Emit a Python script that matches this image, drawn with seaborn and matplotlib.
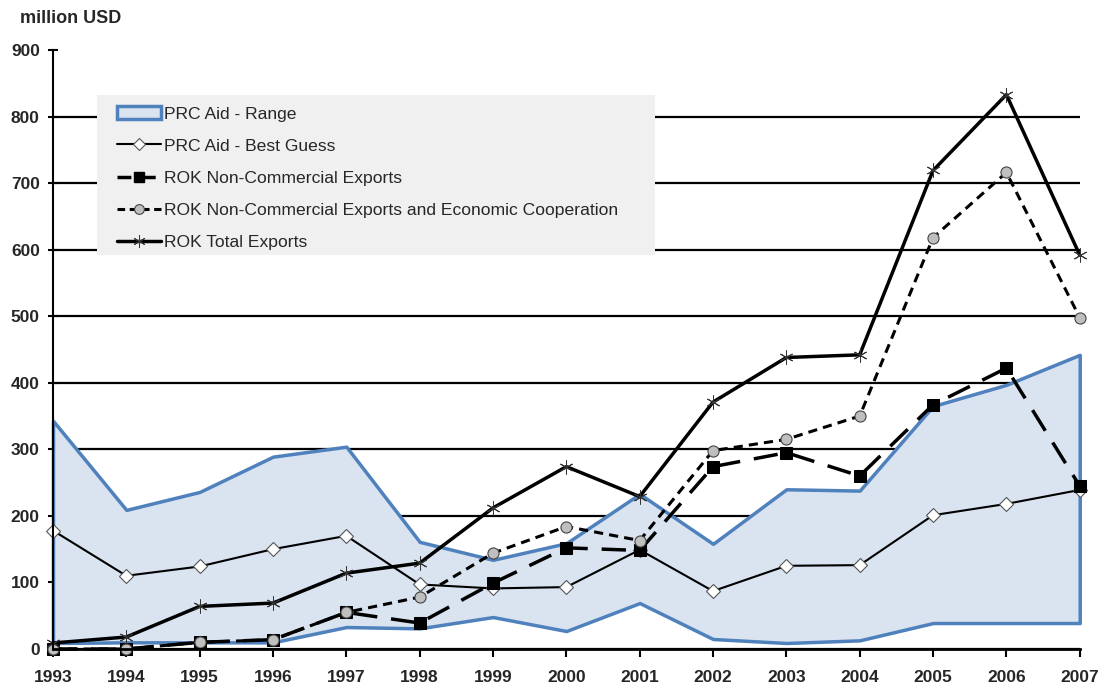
import numpy as np
import pandas as pd
import matplotlib
matplotlib.use("Agg")
import matplotlib.pyplot as plt
from matplotlib.patches import Patch, Rectangle
from matplotlib.lines import Line2D
import seaborn as sns

years = [1993, 1994, 1995, 1996, 1997, 1998, 1999, 2000, 2001, 2002, 2003, 2004, 2005, 2006, 2007]
prc_upper = [343, 209, 236, 289, 304, 161, 134, 159, 233, 158, 240, 238, 365, 397, 442]
prc_lower = [9, 10, 10, 10, 33, 31, 48, 27, 69, 15, 9, 13, 39, 39, 39]
prc_best = [178, 110, 124, 150, 170, 97, 91, 93, 149, 87, 125, 126, 201, 218, 239]
rok_nc = [0, 0, 10, 14, 55, 39, 99, 152, 148, 274, 295, 260, 367, 422, 245]
rok_nc_econ = [0, 0, 10, 14, 55, 78, 144, 184, 163, 298, 315, 350, 618, 716, 498]
rok_total = [9, 18, 64, 69, 114, 129, 212, 274, 229, 371, 438, 442, 719, 833, 592]

labels = ["PRC Aid - Range", "PRC Aid - Best Guess", "ROK Non-Commercial Exports",
          "ROK Non-Commercial Exports and Economic Cooperation", "ROK Total Exports"]
yticks = [0, 100, 200, 300, 400, 500, 600, 700, 800, 900]

sns.set_theme(style="white")
plt.rcParams['font.family'] = ['Liberation Sans', 'DejaVu Sans']

fig = plt.figure(figsize=(11.04, 6.88), dpi=100)
ax = fig.add_axes([0.048, 0.0567, 0.930, 0.8706])

fill_c = "#dae3f0"
edge_c = "#4f81bd"
poly = ax.fill_between(years, prc_lower, prc_upper, facecolor=fill_c, edgecolor=edge_c,
                       linewidth=2.5, zorder=1)
poly.set_clip_on(False)

sns.lineplot(x=years, y=prc_best, ax=ax, color="black", linewidth=1.5,
             marker="D", markersize=7, markerfacecolor="white", markeredgecolor="#555555",
             markeredgewidth=0.8, zorder=3)
sns.lineplot(x=years, y=rok_nc, ax=ax, color="black", linewidth=2.5, zorder=3)
ln = ax.lines[-1]
ln.set_dashes([7, 4])
ln.set_marker("s")
ln.set_markersize(8)
ln.set_markerfacecolor("black")
ln.set_markeredgecolor("black")
sns.lineplot(x=years, y=rok_nc_econ, ax=ax, color="black", linewidth=2.2,
             marker="o", markersize=8, markerfacecolor="#bfbfbf", markeredgecolor="#444444",
             markeredgewidth=0.8, zorder=4)
ax.lines[-1].set_dashes([3, 2])
sns.lineplot(x=years, y=rok_total, ax=ax, color="black", linewidth=2.5,
             marker=(6, 2, 0), markersize=10, markeredgecolor="#333333",
             markeredgewidth=0.7, zorder=5)
for l in ax.lines:
    l.set_clip_on(False)

ax.set_xlim(years[0], years[-1])
ax.set_ylim(0, 900)
ax.set_xticks(years)
ax.set_xticklabels([str(y) for y in years], fontsize=12.5, fontweight="bold")
ax.set_yticks(yticks)
ax.set_yticklabels([str(v) for v in yticks], fontsize=12.5, fontweight="bold")
ax.set_xlabel("")
ax.set_ylabel("")

ax.yaxis.grid(True, color="black", linewidth=1.6, zorder=0.5)
ax.set_axisbelow(True)
for side in ["top", "right"]:
    ax.spines[side].set_visible(False)
ax.spines["left"].set_color("black")
ax.spines["left"].set_linewidth(1.5)
ax.spines["bottom"].set_color("black")
ax.spines["bottom"].set_linewidth(2)
ax.spines["left"].set_zorder(6)
ax.spines["bottom"].set_zorder(6)
ax.tick_params(axis="x", direction="out", length=6, width=1.5, color="black", bottom=True, pad=9)
ax.tick_params(axis="y", direction="inout", length=7, width=1.5, color="black", left=True, pad=6)
fig.canvas.draw()
ax.yaxis.get_gridlines()[-1].set_visible(False)

fig.text(0.018, 0.973, "million USD", fontsize=13, fontweight="bold", ha="left", va="center")

bg = Rectangle((0.0428, 0.6578), 0.5433, 0.2671, transform=ax.transAxes,
               facecolor="#f0f0f0", edgecolor="none", zorder=6.5)
ax.add_patch(bg)

handles = [
    Patch(facecolor=fill_c, edgecolor=edge_c, linewidth=2.5),
    Line2D([], [], color="black", linewidth=1.5, marker="D", markersize=6,
           markerfacecolor="white", markeredgecolor="#555555", markeredgewidth=0.8),
    Line2D([], [], color="black", linewidth=2.5, dashes=[4, 3], marker="s", markersize=7,
           markerfacecolor="black"),
    Line2D([], [], color="black", linewidth=2.2, dashes=[2.5, 1.5], marker="o", markersize=7,
           markerfacecolor="#bfbfbf", markeredgecolor="#444444", markeredgewidth=0.8),
    Line2D([], [], color="black", linewidth=2.5, marker=(6, 2, 0), markersize=9,
           markeredgecolor="#333333", markeredgewidth=0.7),
]
leg = ax.legend(handles, labels, loc="upper left", bbox_to_anchor=(0.0623, 0.906),
                borderaxespad=0, borderpad=0, fontsize=12.6, frameon=False,
                handlelength=2.5, handletextpad=0.2, labelspacing=0.96)
leg.set_zorder(7)

fig.savefig("out.png", dpi=100)
